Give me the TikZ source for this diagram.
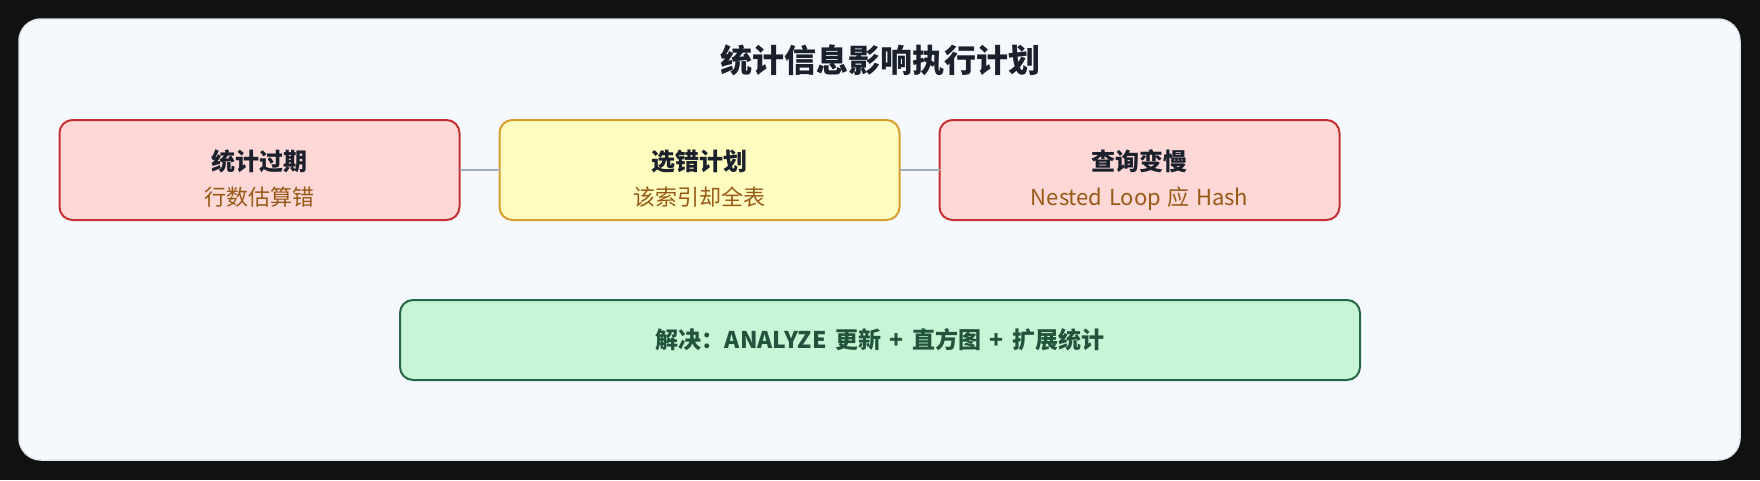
\documentclass[tikz,border=0pt]{standalone}
\usepackage{fontspec}
\newfontfamily\cjk{Noto Sans CJK SC}
\definecolor{bgdark}{HTML}{111111}
\definecolor{panelfill}{HTML}{F5F9FD}
\definecolor{paneldraw}{HTML}{E2E8F0}
\definecolor{redfill}{HTML}{FED7D7}
\definecolor{reddraw}{HTML}{C53030}
\definecolor{yelfill}{HTML}{FEFCBF}
\definecolor{yeldraw}{HTML}{D69E2E}
\definecolor{grnfill}{HTML}{C6F6D5}
\definecolor{grndraw}{HTML}{276749}
\definecolor{grntext}{HTML}{22543D}
\definecolor{darktext}{HTML}{1A202C}
\definecolor{subtext}{HTML}{975A16}
\definecolor{linkgray}{HTML}{A0AEC0}
\newcommand{\gsp}{\hspace{8.5pt}}
\tikzset{
  card/.style={draw, line width=2pt, rounded corners=13pt, minimum width=400pt, minimum height=100pt, inner sep=0pt, outer sep=0pt},
  redcard/.style={card, fill=redfill, draw=reddraw},
  yelcard/.style={card, fill=yelfill, draw=yeldraw},
  grncard/.style={draw=grndraw, fill=grnfill, line width=2pt, rounded corners=13pt, minimum width=960pt, minimum height=80pt, inner sep=0pt, outer sep=0pt},
  headtxt/.style={anchor=base, inner sep=0pt, text=darktext, font=\cjk\bfseries\fontsize{24}{28}\selectfont},
  subtxt/.style={anchor=base, inner sep=0pt, text=subtext, font=\cjk\fontsize{22}{26}\selectfont},
  link/.style={draw=linkgray, line width=2pt}
}
\begin{document}
\begin{tikzpicture}[x=1pt,y=-1pt]
\useasboundingbox (0,0) rectangle (1760,480);
\fill[bgdark] (0,0) rectangle (1760,480);
\draw[fill=panelfill, draw=paneldraw, line width=1.5pt, rounded corners=22pt] (19,19) rectangle (1740,460);
\node[anchor=base, inner sep=0pt, text=darktext, font=\cjk\bfseries\fontsize{32}{36}\selectfont] (title) at (880,72) {统计信息影响执行计划};
\node[redcard] (b1) at (259.5,170) {};
\node[yelcard] (b2) at (699.5,170) {};
\node[redcard] (b3) at (1139.5,170) {};
\node[grncard] (g) at (880,340) {};
\draw[link] (b1.east) -- (b2.west);
\draw[link] (b2.east) -- (b3.west);
\node[headtxt] (h1) at (259.5,170) {统计过期};
\node[subtxt] (s1) at (259.5,205) {行数估算错};
\node[headtxt] (h2) at (699.5,170) {选错计划};
\node[subtxt] (s2) at (699.5,205) {该索引却全表};
\node[headtxt] (h3) at (1139.5,170) {查询变慢};
\node[subtxt] (s3) at (1139.5,205) {Nested\hspace{6.5pt}Loop\hspace{6.5pt}应\hspace{6.5pt}Hash};
\node[anchor=base, inner sep=0pt, text=grntext, font=\cjk\bfseries\fontsize{23}{26}\selectfont] (gt) at (880,348) {解决：ANALYZE\gsp 更新\gsp+\gsp 直方图\gsp+\gsp 扩展统计};
\end{tikzpicture}
\end{document}
